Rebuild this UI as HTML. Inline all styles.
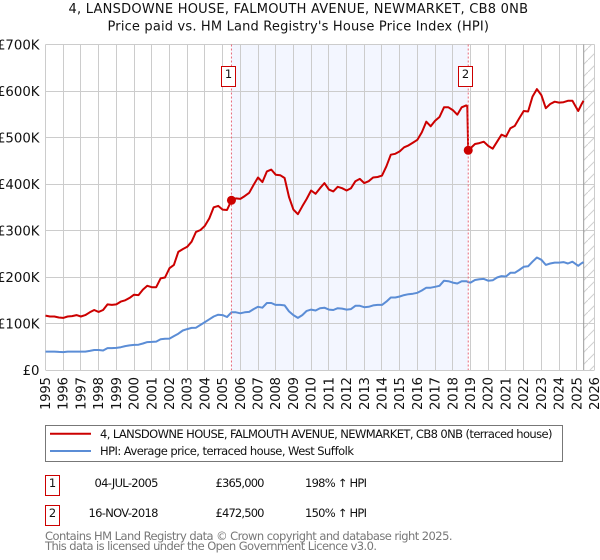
<!DOCTYPE html>
<html>
<head>
<meta charset="utf-8">
<title>House price chart</title>
<style>
html,body{margin:0;padding:0;background:#fff;}
svg{display:block;font-family:"DejaVu Sans","Liberation Sans",sans-serif;}
</style>
</head>
<body>
<svg id="chart" xmlns="http://www.w3.org/2000/svg" width="600" height="560" viewBox="0 0 600 560">
<defs>
<pattern id="hatch" patternUnits="userSpaceOnUse" width="12" height="12">
<line x1="0" y1="12" x2="12" y2="0" stroke="#d0d0d0" stroke-width="1"/>
</pattern>
</defs>
<text x="68.5" y="13" font-size="13" fill="#111" textLength="459.5" lengthAdjust="spacing">4, LANSDOWNE HOUSE, FALMOUTH AVENUE, NEWMARKET, CB8 0NB</text>
<text x="107.5" y="30.5" font-size="13" fill="#111" textLength="381.5" lengthAdjust="spacing">Price paid vs. HM Land Registry's House Price Index (HPI)</text>
<g id="plot"></g>
<rect x="45.5" y="425.5" width="517" height="36" fill="#fff" stroke="#777" stroke-width="1"/>
<line x1="50" y1="433.7" x2="91" y2="433.7" stroke="#cc0000" stroke-width="2"/>
<text x="100" y="438" font-size="11.5" fill="#111" textLength="452.5" lengthAdjust="spacing">4, LANSDOWNE HOUSE, FALMOUTH AVENUE, NEWMARKET, CB8 0NB (terraced house)</text>
<line x1="50" y1="451" x2="91" y2="451" stroke="#5b8dd6" stroke-width="2"/>
<text x="100" y="455" font-size="11.5" fill="#111" textLength="254" lengthAdjust="spacing">HPI: Average price, terraced house, West Suffolk</text>
<g font-size="11.5" fill="#111">
<rect x="45.5" y="475.5" width="14" height="20" fill="#fff" stroke="#cc0000" stroke-width="1"/>
<text x="52.5" y="487" text-anchor="middle">1</text>
<text x="94.5" y="487" textLength="64" lengthAdjust="spacing">04-JUL-2005</text>
<text x="215.5" y="487" textLength="49" lengthAdjust="spacing">£365,000</text>
<text x="305" y="487" textLength="62" lengthAdjust="spacing">198% ↑ HPI</text>
</g>
<g font-size="11.5" fill="#111">
<rect x="45.5" y="505.5" width="14" height="20" fill="#fff" stroke="#cc0000" stroke-width="1"/>
<text x="52.5" y="517" text-anchor="middle">2</text>
<text x="88.5" y="517" textLength="70" lengthAdjust="spacing">16-NOV-2018</text>
<text x="215.5" y="517" textLength="49" lengthAdjust="spacing">£472,500</text>
<text x="305" y="517" textLength="62" lengthAdjust="spacing">150% ↑ HPI</text>
</g>
<text x="45" y="540" font-size="11.5" fill="#777" textLength="407.5" lengthAdjust="spacing">Contains HM Land Registry data © Crown copyright and database right 2025.</text>
<text x="45" y="550" font-size="11.5" fill="#777" textLength="332" lengthAdjust="spacing">This data is licensed under the Open Government Licence v3.0.</text>
</svg>
<script>
const yearTicks = [1995,1996,1997,1998,1999,2000,2001,2002,2003,2004,2005,2006,2007,2008,2009,2010,2011,2012,2013,2014,2015,2016,2017,2018,2019,2020,2021,2022,2023,2024,2025,2026];
const valueTicks = [0,100,200,300,400,500,600,700];
const valueTickLabels = ["£0","£100K","£200K","£300K","£400K","£500K","£600K","£700K"];
const sampleDates = [
1995,1995.25,1995.5,1995.75,1996,1996.25,1996.5,1996.75,1997,1997.25,1997.5,1997.75,
1998,1998.25,1998.5,1998.75,1999,1999.25,1999.5,1999.75,2000,2000.25,2000.5,2000.75,
2001,2001.25,2001.5,2001.75,2002,2002.25,2002.5,2002.75,2003,2003.25,2003.5,2003.75,
2004,2004.25,2004.5,2004.75,2005,2005.25,2005.5,2005.75,2006,2006.25,2006.5,2006.75,
2007,2007.25,2007.5,2007.75,2008,2008.25,2008.5,2008.75,2009,2009.25,2009.5,2009.75,
2010,2010.25,2010.5,2010.75,2011,2011.25,2011.5,2011.75,2012,2012.25,2012.5,2012.75,
2013,2013.25,2013.5,2013.75,2014,2014.25,2014.5,2014.75,2015,2015.25,2015.5,2015.75,
2016,2016.25,2016.5,2016.75,2017,2017.25,2017.5,2017.75,2018,2018.25,2018.5,2018.75,2018.82,2018.87,
2019,2019.25,2019.5,2019.75,2020,2020.25,2020.5,2020.75,2021,2021.25,2021.5,2021.75,
2022,2022.25,2022.5,2022.75,2023,2023.25,2023.5,2023.75,2024,2024.25,2024.5,2024.75,
2025.08,2025.25,2025.38];
const pricePaid = [
117,115,115,113,112,115,116,118,115,118,124,129,
125,129,141,140,141,147,150,155,162,161,173,181,
178,178,197,199,219,226,254,260,265,276,297,301,
310,326,350,353,345,344,365,369,368,374,381,398,
414,404,427,431,420,419,413,372,345,335,352,368,
386,379,391,402,388,384,394,391,386,391,406,411,
402,406,414,415,418,438,463,465,470,479,483,489,
495,511,534,524,536,544,565,565,559,549,565,569,568,472.5,
477,486,488,491,482,476,491,506,502,520,525,541,
557,556,588,604,591,563,572,577,575,576,579,579,
557,570,579];
const hpiIndex = [
39.5,39.5,39.5,39,38.5,39.5,39.5,39.5,39.5,39.5,41,43,
43,42,47,47,47.5,49,51.5,53,54,54.5,57,60,
60.5,61,66,67,67.5,73,78,85,88,90.5,91,97,
103,109,115,119,118,114,124,124,122,124,125,131,
136,134,144,144,140,140,139,126,118,112,118,127,
130,128,133,134,130,129,133,132,130,131,138,138,
135,136,139,140,140,147,156,156,158,161,163,164,
166,171,177,177,179,181,192,191,188,186,191,191,190,189,
188,193.5,195,196,192,193,199,202,201,209,209,215,
222,223,233,242,237,226,229,231,231,232,229,233,
224,229,232];
const saleDates = [2005.5,2018.87];
const saleValues = [365,472.5];
const saleLabels = ["1","2"];
const shadeStartYear = 2005.5;
const shadeEndYear = 2018.87;
const forecastStartYear = 2025.39;

const NS = "http://www.w3.org/2000/svg";
const plot = document.getElementById("plot");
const xLeft = 45.5, xRight = 594.5, yBottom = 370, yTop = 44.5;
function xScale(year){ return xLeft + (year - 1995) * (xRight - xLeft) / 31; }
function yScale(v){ return yBottom - v * (yBottom - yTop) / 700; }
function make(tag, attrs){
  const el = document.createElementNS(NS, tag);
  for (const k in attrs) el.setAttribute(k, attrs[k]);
  return el;
}

const shade = make("rect", {x:xScale(shadeStartYear), y:yTop, width:xScale(shadeEndYear)-xScale(shadeStartYear), height:yBottom-yTop, fill:"#f3f6ff"});


plot.appendChild(shade);

const hatch = make("rect", {x:xScale(forecastStartYear), y:yTop, width:xRight-xScale(forecastStartYear), height:yBottom-yTop, fill:"url(#hatch)"});


plot.appendChild(hatch);

yearTicks.forEach(function(yr){
  const px = Math.round(xScale(yr) - 0.5) + 0.5;
  const g = make("line", {x1:px, y1:yTop, x2:px, y2:yBottom, stroke:"#cccccc", "stroke-width":1});
  
  
  plot.appendChild(g);
  const t = make("text", {transform:"translate(" + (xScale(yr) + 4.5) + ",410) rotate(-90)", "font-size":13.3, fill:"#111", textLength:33, lengthAdjust:"spacing"});
  t.textContent = yr;
  
  
  plot.appendChild(t);
});

valueTicks.forEach(function(v, i){
  const py = Math.round(yScale(v) - 0.5) + 0.5;
  const g = make("line", {x1:xLeft, y1:py, x2:xRight, y2:py, stroke:"#cccccc", "stroke-width":1});
  
  
  plot.appendChild(g);
  const t = make("text", {x:39.5, y:yScale(v) + 5, "font-size":13.3, fill:"#111", "text-anchor":"end"});
  t.textContent = valueTickLabels[i];
  
  
  plot.appendChild(t);
});

const forecastEdge = make("line", {x1:xScale(forecastStartYear), y1:yTop, x2:xScale(forecastStartYear), y2:yBottom, stroke:"#999999", "stroke-width":1});


plot.appendChild(forecastEdge);

function linePoints(values){
  return sampleDates.map(function(d, i){ return xScale(d).toFixed(1) + "," + yScale(values[i]).toFixed(1); }).join(" ");
}
const hpiLine = make("polyline", {points:linePoints(hpiIndex), fill:"none", stroke:"#5b8dd6", "stroke-width":2, "stroke-linejoin":"round"});


plot.appendChild(hpiLine);

const priceLine = make("polyline", {points:linePoints(pricePaid), fill:"none", stroke:"#cc0000", "stroke-width":2, "stroke-linejoin":"round"});


plot.appendChild(priceLine);

saleDates.forEach(function(d, i){
  const sx = xScale(d);
  const v = make("line", {x1:sx, y1:yTop, x2:sx, y2:yBottom, stroke:"#e8697a", "stroke-width":1, "stroke-dasharray":"2 2"});
  
  
  plot.appendChild(v);
  const c = make("circle", {cx:sx, cy:yScale(saleValues[i]), r:4.5, fill:"#cc0000"});
  
  
  plot.appendChild(c);
  const b = make("rect", {x:Math.round(sx) - 9.5, y:66.5, width:14, height:20, fill:"#fff", stroke:"#cc0000", "stroke-width":1});
  
  
  plot.appendChild(b);
  const t = make("text", {x:Math.round(sx) - 2.5, y:78, "font-size":11.5, fill:"#111", "text-anchor":"middle"});
  t.textContent = saleLabels[i];
  
  
  plot.appendChild(t);
});
</script>
</body>
</html>
